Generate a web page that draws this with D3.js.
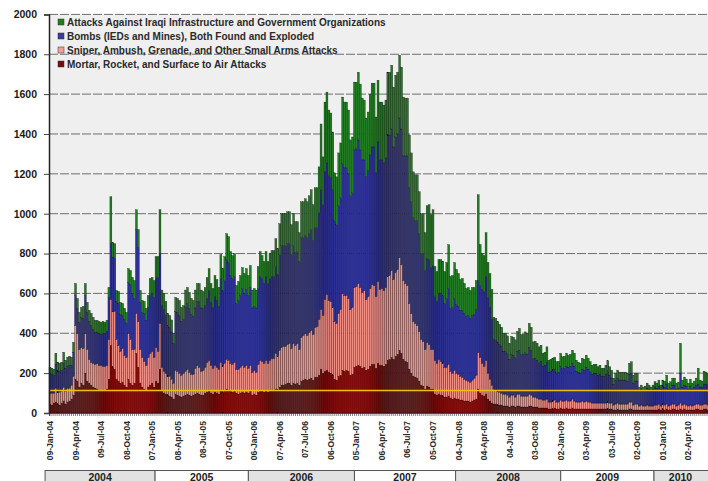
<!DOCTYPE html>
<html>
<head>
<meta charset="utf-8">
<script src="https://cdn.jsdelivr.net/npm/d3@7"></script>
<style>
  body { margin: 0; background: #fff; }
  svg { display: block; }
  text { font-family: "Liberation Sans", Arial, sans-serif; }
</style>
</head>
<body>
<div id="chart"></div>
<script>
// weekly counts, 09-Jan-04 onward (336 weeks)
let mortar = [
  45,40,50,55,45,40,50,60,45,55,60,70,90,
  170,160,130,150,140,200,160,
  150,140,130,125,120,115,110,115,110,120,170,
  340,230,220,
  170,160,150,155,140,130,170,150,140,150,300,230,150,130,120,110,130,140,150,130,160,150,220,
  110,100,95,90,85,80,70, 95,90,85,80,85, 90,95,90,85,90, 95,100,95,90,90,100, 105,110,100,95,105,100,95,
  115,105,110,120,115,110,105,110, 100,95,100,105,100,105,100,110,90,
  95,90,105,115,110,105,115,105,110,115,110,120,115,
  130,140,140,145,150,150,140,150,145,150, 140,160,165,170,165,170,175,165,180,180, 190,220,200,
  210,215,205,200,190,170,165,185,190,215,210,215,210,190,195,230,
  235,240,235,225,230, 215,220,235,245,245, 225,250,240,240,235, 245,265,270,280,270, 285,295,315,300,270, 260,255,
  220,200,185,180,175,160,140,135,120,135,130,120,120,
  95,90,95,90,85, 80,80,85,75,70, 75,70,70,65,65, 60,60,60,55,60, 65,70,120,100,90, 85,95,70,60,50,
  45,45,40,40,40, 35,35,35,30,35, 35,30,35,35,30, 30,30,30,35,35, 30,30,30,25,25, 25,25,25,20,20, 20,25,20,20,
  25,20,20,25,20,20,25,20,20,20, 20,20,20,20,20,20,20,20,20,20, 20,20,20,20,20,20,20,15,15,20, 15,15,15,15,15,20,20,15,15,15,
  15,15,15,15,15,15,15,15,15,15, 20,15,20,15,20,15,15,20,20,15, 15,20,15,20,15,15,15,15,15,20, 20,15,15,20,20,15
];
let sniper = [
  55,60,50,70,60,65,60,70,65,70,65,70,95,
  270,240,190,180,185,200,160,
  120,115,120,120,130,125,130,120,125,120,200,
  230,280,290,
  200,180,160,170,150,150,230,220,180,170,200,230,170,150,140,130,150,160,160,150,170,160,230,
  120,110,105,95,100,90,80, 120,120,115,110,115, 120,125,115,110,105, 130,140,135,120,125,130, 150,155,140,130,135,130,125,
  140,130,140,150,150,140,140,145, 120,125,130,135,130,135,125,130,115,
  120,115,140,150,150,145,150,145,155,160,165,180,170,
  185,190,195,190,195,200,185,200,195,200, 180,220,225,230,225,235,240,230,250,255, 280,300,290,
  360,380,360,360,340,290,285,315,330,385,380,375,365,330,335,400,
  400,410,395,380,385, 355,365,390,400,395, 360,410,380,385,380, 385,420,420,435,400, 420,425,465,445,395, 390,385,
  330,300,275,270,265,250,230,225,200,220,215,200,200,
  170,160,175,170,165, 150,150,160,135,130, 140,130,125,120,115, 110,105,100,100,105, 110,120,185,180,160, 150,170,130,110,90,
  75,70,70,65,60, 60,60,55,50,55, 55,50,60,60,55, 55,55,55,60,55, 50,50,45,45,45, 40,40,45,35,35, 40,40,35,35,
  40,40,40,40,40,40,45,40,35,35, 35,40,35,40,35,35,30,30,30,30, 30,30,30,30,35,30,30,25,30,30, 30,30,30,30,30,35,35,25,30,30,
  20,25,20,20,25,20,20,20,25,25, 25,20,25,25,25,20,25,25,25,20, 25,30,25,25,25,20,25,20,25,25, 25,25,25,25,25,25
];
let bombs = [
  100,95,90,120,105,105,105,120,115,110,115,100,120,
  150,125,135,150,150,190,185,
  190,185,170,160,155,160,155,165,165,170,210,
  280,270,270,
  190,210,185,165,180,170,255,275,280,255,420,370,235,225,240,225,250,290,290,300,350,370,350,
  310,310,290,255,245,237,200, 295,295,290,270,270, 322,330,320,300,290, 302,320,330,317,310,310, 320,350,315,305,345,335,315,
  420,380,415,500,490,440,430,430, 330,345,360,385,370,380,365,390,322,
  320,322,380,420,415,400,420,400,410,410,410,435,410,
  480,510,505,505,505,500,470,490,465,460, 440,500,490,490,490,495,505,470,500,495, 535,600,555,
  640,660,625,620,590,505,495,540,560,650,640,640,625,570,575,690,
  690,720,690,665,655, 615,630,670,690,695, 620,700,650,645,640, 650,710,705,710,665, 680,680,700,680,625, 640,650,
  580,560,520,515,525,490,430,440,395,420,425,410,420,
  320,310,330,340,340, 320,345,380,315,330, 360,345,340,330,335, 330,320,330,320,325, 320,330,360,360,370, 375,420,380,360,330,
  250,250,245,240,235, 215,215,207,190,205, 200,197,215,220,208, 210,217,210,235,225, 192,195,190,182,190, 170,175,187,150,155, 155,155,147,150,
  170,162,165,170,170,175,180,175,155,150, 145,160,160,170,165,152,145,150,150,140, 145,135,135,145,157,140,125,105,120,125, 120,120,120,120,115,140,145,110,115,115,
  80,80,80,80,85,85,80,85,90,85, 90,85,90,90,100,85,87,95,95,85, 85,150,90,95,95,85,95,85,90,95, 100,90,90,100,100,100
];
let infra = [
  30,30,30,55,45,40,40,55,40,45,45,40,50,
  60,50,50,50,60,60,50,
  55,60,60,60,60,60,60,60,55,55,50,
  235,75,70,
  55,60,60,60,55,55,70,70,80,90,100,90,60,60,60,60,60,85,80,85,105,105,220,
  77,80,70,60,60,60,50, 70,70,75,70,70, 85,80,80,80,80, 90,90,90,90,85,90, 105,110,95,95,105,105,95,
  120,110,120,130,130,120,115,115, 90,95,100,105,100,105,100,110,90,
  90,90,110,125,115,110,125,110,125,130,130,140,130,
  155,160,160,160,160,160,150,160,155,150, 145,180,180,185,180,190,200,180,200,200, 230,330,240,
  350,355,330,325,290,240,240,265,275,335,330,330,320,280,280,340,
  335,340,330,310,300, 295,295,305,320,320, 280,310,290,290,290, 290,315,315,320,300, 310,310,315,310,295, 290,290,
  265,245,230,230,230,210,200,200,190,265,275,265,280,
  150,150,170,170,172, 160,180,220,160,160, 180,175,165,155,160, 150,140,140,140,140, 135,145,430,205,180, 180,220,175,170,150,
  110,110,105,100,95, 90,90,90,80,90, 90,90,100,110,100, 100,105,105,120,115, 85,85,85,80,80, 65,65,75,60,60, 60,60,55,55,
  65,60,60,65,60,60,65,65,55,50, 50,55,55,60,55,50,45,45,45,42, 45,40,40,45,50,42,40,30,35,40, 40,40,40,40,40,55,57,40,40,40,
  15,20,15,20,25,20,15,20,27,25, 30,20,30,30,45,30,30,35,35,30, 30,150,35,40,35,30,35,30,30,35, 80,35,30,65,60,60
];

let seriesNames = [
  "Attacks Against Iraqi Infrastructure and Government Organizations",
  "Bombs (IEDs and Mines), Both Found and Exploded",
  "Sniper, Ambush, Grenade, and Other Small Arms Attacks",
  "Mortar, Rocket, and Surface to Air Attacks"
];
let tickLabels = ["09-Jan-04","09-Apr-04","09-Jul-04","08-Oct-04","07-Jan-05","08-Apr-05","08-Jul-05",
  "07-Oct-05","06-Jan-06","07-Apr-06","07-Jul-06","06-Oct-06","05-Jan-07","06-Apr-07","06-Jul-07",
  "05-Oct-07","04-Jan-08","04-Apr-08","04-Jul-08","03-Oct-08","02-Jan-09","03-Apr-09","03-Jul-09",
  "02-Oct-09","01-Jan-10","02-Apr-10"];
let years = ["2004","2005","2006","2007","2008","2009","2010"];
let yearStartWeek = [-2, 54, 101.5, 155.5, 207, 260.5, 308, 338];
let referenceLevel = 113;

let W = 708, H = 481;
let plotLeft = 49, plotRight = 709, plotTop = 14.4, plotBottom = 413;

let keys = ["mortar", "sniper", "bombs", "infra"];
let colors = { mortar: "#7d0b0b", sniper: "#f08e86", bombs: "#2e3194", infra: "#237c23" };
let legendColors = ["#1f7f1f", "#3a3aa6", "#f2a09a", "#7b0a0a"];

let table = mortar.map((m, i) => ({ week: i, mortar: m, sniper: sniper[i], bombs: bombs[i], infra: infra[i] }));
let stacked = d3.stack().keys(keys)(table);

let svg = d3.select("#chart").append("svg").attr("width", W).attr("height", H);

let x = d3.scaleBand().domain(table.map(d => d.week)).range([plotLeft, plotRight]).padding(0);
let xw = d3.scaleLinear().domain([0, table.length]).range([plotLeft, plotRight]);
let y = d3.scaleLinear().domain([0, 2000]).range([plotBottom, plotTop]);

// plot background
svg.append("rect").attr("x", plotLeft).attr("y", plotTop).attr("width", W - plotLeft).attr("height", plotBottom - plotTop).attr("fill", "#efefef");

// gridlines
svg.append("g").selectAll("line").data(d3.range(200, 2001, 200)).join("line")
  .attr("x1", plotLeft).attr("x2", W).attr("y1", d => y(d)).attr("y2", d => y(d))
  .attr("stroke", "#6e6e6e").attr("stroke-width", 1).attr("stroke-dasharray", "9,2");

// bars
svg.append("g").selectAll("g").data(stacked).join("g")
  .attr("fill", d => colors[d.key])
  .selectAll("rect").data(d => d).join("rect")
  .attr("x", d => x(d.data.week))
  .attr("width", x.bandwidth())
  .attr("y", d => y(d[1]))
  .attr("height", d => y(d[0]) - y(d[1]))
  .attr("stroke", "#000").attr("stroke-width", 0.35).attr("stroke-opacity", 0.8);

// yellow reference line
svg.append("line").attr("x1", plotLeft).attr("x2", W).attr("y1", y(referenceLevel)).attr("y2", y(referenceLevel))
  .attr("stroke", "#efbf0c").attr("stroke-width", 1.6);

// y axis
let yAxis = svg.append("g").attr("transform", `translate(${plotLeft},0)`)
  .call(d3.axisLeft(y).tickValues(d3.range(0, 2001, 200)).tickFormat(d3.format("d")).tickSize(5).tickPadding(7));
yAxis.select(".domain").attr("stroke", "#222").attr("stroke-width", 1.5);
yAxis.selectAll(".tick line").attr("stroke", "#444");
yAxis.selectAll("text").attr("font-size", 10.5).attr("font-weight", "bold").attr("fill", "#1a1a1a")
  .attr("font-family", "'Liberation Sans', Arial, sans-serif");

// x axis: weekly ticks, quarterly labels
let xAxis = svg.append("g").attr("transform", `translate(0,${plotBottom})`)
  .call(d3.axisBottom(x).tickSize(3).tickFormat(i => i % 13 === 0 ? tickLabels[i / 13] : ""));
xAxis.select(".domain").attr("stroke", "#333").attr("stroke-width", 0.8);
xAxis.selectAll(".tick line").attr("stroke", "#333").attr("stroke-width", 0.6);
xAxis.selectAll("text")
  .attr("transform", "rotate(-90)")
  .attr("x", -8).attr("y", 0).attr("dy", "0.35em")
  .style("text-anchor", "end")
  .attr("font-size", 8.5).attr("font-weight", "bold").attr("fill", "#2a2a2a")
  .attr("font-family", "'Liberation Sans', Arial, sans-serif");

// year band
let yearBand = svg.append("g");
yearBand.selectAll("rect").data(years).join("rect")
  .attr("x", (d, i) => xw(yearStartWeek[i]))
  .attr("width", (d, i) => xw(yearStartWeek[i + 1]) - xw(yearStartWeek[i]))
  .attr("y", 470.5).attr("height", 20)
  .attr("fill", (d, i) => i % 2 === 0 ? "#e2e2e2" : "#fdfdfd")
  .attr("stroke", "#555").attr("stroke-width", 1);
yearBand.selectAll("text").data(years).join("text")
  .attr("x", (d, i) => (xw(yearStartWeek[i]) + xw(Math.min(yearStartWeek[i + 1], 335))) / 2)
  .attr("y", 480.5)
  .attr("text-anchor", "middle")
  .attr("font-size", 10.5).attr("font-weight", "bold").attr("fill", "#222")
  .text(d => d);

// legend
let legend = svg.append("g").attr("transform", "translate(58,0)");
let rows = legend.selectAll("g").data(seriesNames).join("g")
  .attr("transform", (d, i) => `translate(0,${22 + i * 14})`);
rows.append("rect").attr("x", 0).attr("y", -3).attr("width", 6).attr("height", 6)
  .attr("fill", (d, i) => legendColors[i]).attr("stroke", "#333").attr("stroke-width", 0.5);
rows.append("text").attr("x", 9).attr("y", 0).attr("dy", "0.35em")
  .attr("font-size", 10).attr("font-weight", "bold").attr("fill", "#2a2a2a")
  .text(d => d);
</script>
</body>
</html>
